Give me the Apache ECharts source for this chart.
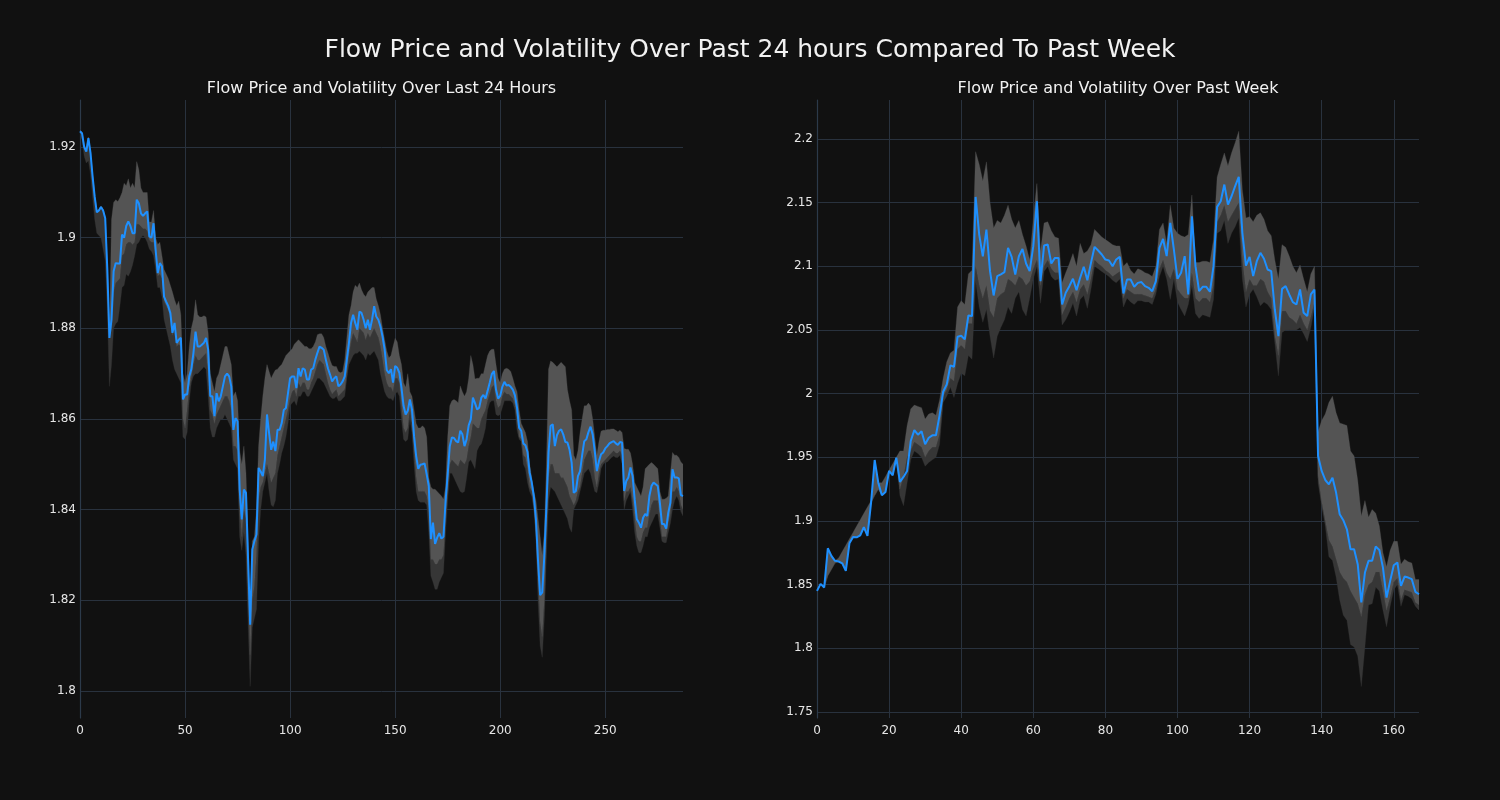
<!DOCTYPE html>
<html>
<head>
<meta charset="utf-8">
<script src="https://cdn.jsdelivr.net/npm/echarts/dist/echarts.min.js"></script>
<style>
html,body{margin:0;padding:0;background:#111111;}
#chart{width:1500px;height:800px;}
</style>
</head>
<body>
<div id="chart"></div>
<script>
// ---------- Last 24 hours (5-minute steps, index 0..287) ----------
const price24 = [
1.9235,1.9230,1.9200,1.9190,1.9220,1.9187,1.9135,1.9090,1.9056,1.9060,
1.9068,1.9060,1.9043,1.8930,1.8779,1.8820,1.8926,1.8944,1.8943,1.8943,
1.9007,1.9000,1.9026,1.9036,1.9026,1.9010,1.9010,1.9084,1.9076,1.9054,
1.9048,1.9054,1.9058,1.9003,1.9000,1.9032,1.8973,1.8922,1.8944,1.8937,
1.8870,1.8859,1.8849,1.8834,1.8790,1.8812,1.8768,1.8775,1.8779,1.8643,
1.8654,1.8654,1.8694,1.8710,1.8746,1.8793,1.8760,1.8760,1.8764,1.8768,
1.8779,1.8753,1.8650,1.8650,1.8606,1.8657,1.8639,1.8650,1.8672,1.8694,
1.8700,1.8694,1.8672,1.8576,1.8602,1.8595,1.8444,1.8378,1.8444,1.8437,
1.8290,1.8146,1.8312,1.8330,1.8345,1.8492,1.8484,1.8474,1.8510,1.8610,
1.8569,1.8532,1.8550,1.8529,1.8576,1.8576,1.8591,1.8620,1.8624,1.8657,
1.8690,1.8694,1.8694,1.8668,1.8712,1.8694,1.8712,1.8709,1.8687,1.8687,
1.8709,1.8712,1.8731,1.8746,1.8760,1.8757,1.8753,1.8731,1.8712,1.8698,
1.8683,1.8690,1.8694,1.8672,1.8676,1.8683,1.8694,1.8731,1.8768,1.8812,
1.8830,1.8812,1.8797,1.8837,1.8834,1.8819,1.8800,1.8819,1.8797,1.8819,
1.8849,1.8826,1.8819,1.8804,1.8782,1.8753,1.8708,1.8701,1.8710,1.8680,
1.8717,1.8713,1.8702,1.8669,1.8629,1.8610,1.8618,1.8643,1.8621,1.8562,
1.8518,1.8490,1.8499,1.8500,1.8502,1.8478,1.8452,1.8335,1.8371,1.8324,
1.8338,1.8348,1.8336,1.8340,1.8419,1.8478,1.8540,1.8559,1.8558,1.8551,
1.8548,1.8574,1.8566,1.8540,1.8555,1.8586,1.8599,1.8647,1.8635,1.8621,
1.8625,1.8647,1.8653,1.8645,1.8662,1.8680,1.8699,1.8706,1.8665,1.8645,
1.8651,1.8671,1.8682,1.8674,1.8675,1.8671,1.8665,1.8652,1.8625,1.8581,
1.8574,1.8546,1.8542,1.8527,1.8482,1.8460,1.8430,1.8379,1.8287,1.8211,
1.8217,1.8298,1.8408,1.8526,1.8585,1.8588,1.8540,1.8564,1.8574,1.8577,
1.8566,1.8549,1.8548,1.8532,1.8504,1.8437,1.8441,1.8474,1.8485,1.8520,
1.8551,1.8555,1.8571,1.8583,1.8566,1.8529,1.8485,1.8507,1.8522,1.8526,
1.8535,1.8540,1.8546,1.8549,1.8551,1.8546,1.8543,1.8549,1.8548,1.8441,
1.8463,1.8471,1.8493,1.8474,1.8423,1.8379,1.8371,1.8360,1.8382,1.8390,
1.8386,1.8430,1.8452,1.8460,1.8456,1.8452,1.8415,1.8368,1.8368,1.8358,
1.8393,1.8415,1.8489,1.8471,1.8471,1.8469,1.8432,1.8430];

const high24 = [
1.9238,1.9232,1.9205,1.9195,1.9222,1.9190,1.9138,1.9093,1.9060,1.9063,
1.9070,1.9062,1.9045,1.8935,1.8785,1.9040,1.9078,1.9084,1.9080,1.9088,
1.9100,1.9120,1.9115,1.9130,1.9110,1.9120,1.9110,1.9168,1.9150,1.9110,
1.9100,1.9100,1.9100,1.9035,1.9035,1.9060,1.9000,1.8985,1.8990,1.8960,
1.8930,1.8920,1.8910,1.8895,1.8880,1.8863,1.8850,1.8860,1.8830,1.8700,
1.8680,1.8700,1.8760,1.8800,1.8820,1.8863,1.8830,1.8825,1.8825,1.8828,
1.8825,1.8790,1.8700,1.8680,1.8660,1.8690,1.8700,1.8720,1.8740,1.8760,
1.8760,1.8740,1.8720,1.8650,1.8660,1.8640,1.8530,1.8500,1.8540,1.8480,
1.8330,1.8160,1.8330,1.8340,1.8400,1.8540,1.8600,1.8650,1.8690,1.8720,
1.8705,1.8690,1.8700,1.8708,1.8710,1.8716,1.8720,1.8730,1.8740,1.8745,
1.8750,1.8755,1.8765,1.8770,1.8775,1.8770,1.8765,1.8760,1.8760,1.8755,
1.8755,1.8760,1.8770,1.8786,1.8788,1.8788,1.8780,1.8760,1.8746,1.8730,
1.8718,1.8716,1.8716,1.8705,1.8702,1.8705,1.8730,1.8780,1.8830,1.8850,
1.8880,1.8895,1.8890,1.8900,1.8885,1.8875,1.8870,1.8880,1.8885,1.8890,
1.8890,1.8865,1.8850,1.8830,1.8800,1.8775,1.8750,1.8735,1.8740,1.8760,
1.8778,1.8770,1.8740,1.8720,1.8680,1.8670,1.8700,1.8660,1.8650,1.8620,
1.8590,1.8580,1.8580,1.8585,1.8580,1.8560,1.8470,1.8450,1.8445,1.8445,
1.8440,1.8435,1.8430,1.8423,1.8450,1.8560,1.8629,1.8640,1.8643,1.8640,
1.8636,1.8673,1.8660,1.8650,1.8660,1.8690,1.8740,1.8720,1.8688,1.8690,
1.8690,1.8700,1.8700,1.8720,1.8740,1.8750,1.8754,1.8754,1.8720,1.8690,
1.8680,1.8700,1.8710,1.8712,1.8710,1.8705,1.8690,1.8673,1.8660,1.8620,
1.8590,1.8580,1.8570,1.8550,1.8500,1.8470,1.8440,1.8420,1.8380,1.8340,
1.8300,1.8350,1.8500,1.8710,1.8728,1.8725,1.8720,1.8715,1.8720,1.8725,
1.8720,1.8715,1.8665,1.8640,1.8620,1.8520,1.8510,1.8530,1.8570,1.8600,
1.8629,1.8629,1.8635,1.8629,1.8600,1.8560,1.8520,1.8550,1.8573,1.8575,
1.8575,1.8577,1.8577,1.8578,1.8578,1.8575,1.8572,1.8575,1.8570,1.8535,
1.8533,1.8533,1.8525,1.8500,1.8460,1.8450,1.8440,1.8430,1.8450,1.8490,
1.8495,1.8500,1.8504,1.8500,1.8495,1.8490,1.8440,1.8423,1.8423,1.8425,
1.8430,1.8480,1.8526,1.8520,1.8520,1.8515,1.8505,1.8500];

const split24 = [
1.9238,1.9232,1.9205,1.9195,1.9222,1.9190,1.9138,1.9093,1.9060,1.9063,
1.9070,1.9062,1.9045,1.8935,1.8785,1.8800,1.8880,1.8900,1.8905,1.8910,
1.8960,1.8965,1.8985,1.8990,1.8990,1.8985,1.8990,1.9030,1.9030,1.9025,
1.9020,1.9020,1.9015,1.8995,1.8990,1.8990,1.8960,1.8915,1.8920,1.8910,
1.8860,1.8850,1.8840,1.8825,1.8785,1.8800,1.8760,1.8765,1.8760,1.8600,
1.8580,1.8620,1.8670,1.8690,1.8720,1.8740,1.8730,1.8730,1.8735,1.8740,
1.8745,1.8700,1.8620,1.8610,1.8590,1.8610,1.8620,1.8630,1.8640,1.8650,
1.8650,1.8640,1.8620,1.8540,1.8540,1.8530,1.8400,1.8340,1.8400,1.8380,
1.8220,1.8080,1.8200,1.8230,1.8300,1.8420,1.8450,1.8460,1.8480,1.8500,
1.8480,1.8460,1.8470,1.8480,1.8520,1.8540,1.8560,1.8580,1.8600,1.8620,
1.8645,1.8660,1.8665,1.8650,1.8680,1.8670,1.8680,1.8680,1.8665,1.8665,
1.8680,1.8690,1.8705,1.8720,1.8730,1.8725,1.8720,1.8700,1.8680,1.8665,
1.8655,1.8660,1.8665,1.8650,1.8655,1.8660,1.8665,1.8700,1.8740,1.8770,
1.8790,1.8780,1.8770,1.8800,1.8795,1.8790,1.8775,1.8790,1.8780,1.8790,
1.8800,1.8790,1.8780,1.8760,1.8730,1.8700,1.8680,1.8670,1.8670,1.8660,
1.8690,1.8690,1.8680,1.8630,1.8580,1.8570,1.8580,1.8620,1.8590,1.8530,
1.8470,1.8440,1.8440,1.8440,1.8440,1.8430,1.8400,1.8290,1.8290,1.8280,
1.8280,1.8290,1.8290,1.8300,1.8380,1.8440,1.8500,1.8510,1.8505,1.8500,
1.8495,1.8510,1.8505,1.8500,1.8510,1.8540,1.8560,1.8590,1.8585,1.8580,
1.8580,1.8600,1.8610,1.8620,1.8640,1.8655,1.8670,1.8675,1.8640,1.8625,
1.8630,1.8650,1.8660,1.8655,1.8655,1.8650,1.8645,1.8630,1.8600,1.8560,
1.8555,1.8520,1.8515,1.8490,1.8450,1.8440,1.8410,1.8350,1.8250,1.8150,
1.8120,1.8200,1.8350,1.8470,1.8500,1.8500,1.8480,1.8480,1.8480,1.8470,
1.8470,1.8460,1.8450,1.8430,1.8420,1.8410,1.8420,1.8440,1.8450,1.8480,
1.8510,1.8520,1.8530,1.8530,1.8510,1.8470,1.8450,1.8480,1.8500,1.8505,
1.8510,1.8515,1.8520,1.8525,1.8530,1.8525,1.8525,1.8530,1.8520,1.8420,
1.8440,1.8440,1.8450,1.8420,1.8380,1.8340,1.8330,1.8330,1.8350,1.8360,
1.8360,1.8390,1.8410,1.8420,1.8420,1.8420,1.8380,1.8340,1.8340,1.8340,
1.8370,1.8390,1.8440,1.8440,1.8450,1.8440,1.8410,1.8400];

const low24 = [
1.9230,1.9215,1.9180,1.9165,1.9170,1.9140,1.9090,1.9040,1.9010,1.9005,
1.9000,1.8975,1.8950,1.8840,1.8672,1.8720,1.8800,1.8810,1.8815,1.8850,
1.8890,1.8895,1.8920,1.8915,1.8925,1.8940,1.8960,1.8985,1.8990,1.9000,
1.9005,1.9000,1.8990,1.8975,1.8970,1.8960,1.8930,1.8890,1.8890,1.8870,
1.8820,1.8800,1.8780,1.8760,1.8730,1.8710,1.8700,1.8690,1.8680,1.8560,
1.8555,1.8570,1.8640,1.8680,1.8695,1.8700,1.8700,1.8705,1.8710,1.8715,
1.8710,1.8650,1.8580,1.8560,1.8560,1.8580,1.8590,1.8600,1.8600,1.8610,
1.8600,1.8590,1.8580,1.8510,1.8500,1.8490,1.8340,1.8310,1.8350,1.8300,
1.8150,1.8010,1.8140,1.8160,1.8180,1.8330,1.8400,1.8440,1.8460,1.8480,
1.8440,1.8410,1.8406,1.8420,1.8480,1.8500,1.8525,1.8540,1.8560,1.8590,
1.8630,1.8635,1.8640,1.8630,1.8650,1.8650,1.8660,1.8660,1.8650,1.8650,
1.8660,1.8670,1.8680,1.8690,1.8690,1.8685,1.8680,1.8670,1.8660,1.8650,
1.8645,1.8645,1.8650,1.8640,1.8640,1.8645,1.8650,1.8690,1.8720,1.8730,
1.8740,1.8745,1.8745,1.8750,1.8745,1.8740,1.8730,1.8745,1.8740,1.8745,
1.8750,1.8740,1.8730,1.8700,1.8680,1.8660,1.8650,1.8645,1.8645,1.8640,
1.8655,1.8660,1.8650,1.8600,1.8555,1.8550,1.8555,1.8600,1.8570,1.8500,
1.8440,1.8420,1.8416,1.8416,1.8416,1.8410,1.8350,1.8254,1.8240,1.8224,
1.8224,1.8240,1.8250,1.8260,1.8350,1.8420,1.8480,1.8480,1.8470,1.8460,
1.8450,1.8440,1.8437,1.8440,1.8470,1.8505,1.8510,1.8500,1.8490,1.8530,
1.8540,1.8545,1.8560,1.8580,1.8620,1.8636,1.8640,1.8640,1.8610,1.8607,
1.8610,1.8625,1.8640,1.8640,1.8640,1.8640,1.8635,1.8620,1.8575,1.8555,
1.8550,1.8500,1.8490,1.8460,1.8440,1.8430,1.8400,1.8340,1.8200,1.8100,
1.8074,1.8160,1.8300,1.8420,1.8450,1.8445,1.8440,1.8430,1.8420,1.8410,
1.8400,1.8390,1.8380,1.8360,1.8350,1.8400,1.8410,1.8420,1.8440,1.8460,
1.8480,1.8485,1.8490,1.8480,1.8460,1.8440,1.8437,1.8460,1.8490,1.8500,
1.8504,1.8505,1.8510,1.8515,1.8518,1.8515,1.8515,1.8520,1.8500,1.8400,
1.8420,1.8430,1.8440,1.8400,1.8350,1.8320,1.8305,1.8305,1.8320,1.8340,
1.8340,1.8360,1.8370,1.8380,1.8390,1.8390,1.8360,1.8330,1.8327,1.8327,
1.8350,1.8370,1.8400,1.8420,1.8430,1.8420,1.8395,1.8386];

// ---------- Past week (hourly steps, index 0..167) ----------
const priceWeek = [
1.8451,1.8506,1.8478,1.8786,1.8726,1.8687,1.8682,1.8668,1.8608,1.8825,
1.8875,1.8872,1.8888,1.8951,1.8883,1.9144,1.9479,1.9301,1.9202,1.9228,
1.9393,1.9359,1.9497,1.9307,1.9346,1.9393,1.9628,1.9714,1.9678,1.9704,
1.9602,1.9654,1.9673,1.9673,1.9830,2.0015,2.0073,2.0222,2.0211,2.0447,
2.0455,2.0426,2.0614,2.0609,2.1545,2.1249,2.1079,2.1289,2.0962,2.0771,
2.0923,2.0936,2.0954,2.1145,2.1074,2.0936,2.1079,2.1137,2.1022,2.0962,
2.1158,2.1511,2.0883,2.1163,2.1171,2.1022,2.1066,2.1066,2.0700,2.0792,
2.0844,2.0902,2.0813,2.0910,2.0996,2.0891,2.1027,2.1153,2.1124,2.1093,
2.1053,2.1045,2.1001,2.1053,2.1074,2.0787,2.0896,2.0896,2.0839,2.0870,
2.0876,2.0844,2.0831,2.0805,2.0883,2.1145,2.1215,2.1080,2.1341,2.1132,
2.0902,2.0949,2.1080,2.0779,2.1393,2.1001,2.0805,2.0839,2.0839,2.0800,
2.1001,2.1467,2.1511,2.1642,2.1485,2.1550,2.1629,2.1702,2.1263,2.1006,
2.1074,2.0923,2.1040,2.1106,2.1059,2.0975,2.0962,2.0661,2.0452,2.0823,
2.0844,2.0779,2.0719,2.0700,2.0818,2.0635,2.0609,2.0779,2.0818,1.9510,
1.9393,1.9322,1.9288,1.9340,1.9223,1.9053,1.9006,1.8935,1.8778,1.8778,
1.8661,1.8360,1.8595,1.8687,1.8687,1.8799,1.8773,1.8634,1.8399,1.8530,
1.8653,1.8674,1.8491,1.8564,1.8556,1.8543,1.8444,1.8425];

const highWeek = [
1.8451,1.8506,1.8478,1.8786,1.8726,1.8687,1.8710,1.8760,1.8810,1.8860,
1.8910,1.8960,1.9010,1.9060,1.9110,1.9160,1.9479,1.9301,1.9300,1.9350,
1.9400,1.9450,1.9500,1.9550,1.9550,1.9750,1.9880,1.9910,1.9900,1.9890,
1.9800,1.9840,1.9850,1.9830,1.9950,2.0120,2.0250,2.0320,2.0340,2.0680,
2.0730,2.0700,2.0940,2.0970,2.1900,2.1800,2.1670,2.1820,2.1500,2.1300,
2.1360,2.1340,2.1400,2.1480,2.1370,2.1300,2.1360,2.1250,2.1160,2.1050,
2.1370,2.1650,2.1120,2.1340,2.1350,2.1280,2.1230,2.1220,2.0870,2.0950,
2.1020,2.1100,2.1000,2.1180,2.1100,2.1120,2.1170,2.1290,2.1260,2.1230,
2.1210,2.1190,2.1170,2.1160,2.1160,2.1000,2.1030,2.0970,2.0940,2.0980,
2.0970,2.0950,2.0940,2.0920,2.1000,2.1290,2.1340,2.1180,2.1480,2.1300,
2.1260,2.1240,2.1230,2.1250,2.1560,2.1030,2.1030,2.1040,2.1040,2.1030,
2.1210,2.1700,2.1800,2.1890,2.1790,2.1890,2.1970,2.2060,2.1600,2.1380,
2.1390,2.1350,2.1400,2.1420,2.1370,2.1280,2.1240,2.1050,2.0900,2.1170,
2.1150,2.1080,2.1000,2.0950,2.1010,2.0900,2.0800,2.0940,2.1000,1.9700,
1.9790,1.9840,1.9930,1.9980,1.9850,1.9770,1.9760,1.9750,1.9550,1.9510,
1.9320,1.9040,1.9160,1.9030,1.9090,1.9060,1.8960,1.8750,1.8640,1.8770,
1.8840,1.8840,1.8660,1.8700,1.8680,1.8670,1.8540,1.8540];

const splitWeek = [
1.8451,1.8506,1.8478,1.8570,1.8620,1.8670,1.8682,1.8668,1.8608,1.8825,
1.8875,1.8872,1.8888,1.8951,1.8883,1.9144,1.9200,1.9250,1.9202,1.9228,
1.9393,1.9359,1.9497,1.9250,1.9350,1.9500,1.9550,1.9620,1.9600,1.9580,
1.9500,1.9550,1.9580,1.9580,1.9680,1.9980,2.0030,2.0120,2.0100,2.0350,
2.0380,2.0350,2.0550,2.0550,2.1000,2.0850,2.0750,2.0850,2.0650,2.0600,
2.0750,2.0780,2.0800,2.0900,2.0880,2.0850,2.0920,2.0900,2.0850,2.0880,
2.0980,2.1050,2.0850,2.1000,2.1050,2.0980,2.0950,2.0950,2.0620,2.0680,
2.0750,2.0800,2.0720,2.0820,2.0860,2.0780,2.0900,2.1050,2.1020,2.1000,
2.0970,2.0950,2.0920,2.0940,2.0960,2.0750,2.0820,2.0800,2.0780,2.0780,
2.0780,2.0770,2.0760,2.0750,2.0820,2.0980,2.1050,2.0950,2.0900,2.0980,
2.0820,2.0780,2.0750,2.0750,2.0950,2.0750,2.0720,2.0750,2.0750,2.0720,
2.0850,2.1350,2.1400,2.1480,2.1350,2.1400,2.1450,2.1500,2.1050,2.0800,
2.0900,2.0850,2.0850,2.0900,2.0880,2.0800,2.0750,2.0450,2.0300,2.0650,
2.0650,2.0600,2.0580,2.0550,2.0620,2.0550,2.0500,2.0600,2.0720,1.9350,
1.9150,1.9000,1.8850,1.8800,1.8700,1.8600,1.8550,1.8520,1.8450,1.8400,
1.8350,1.8250,1.8420,1.8500,1.8520,1.8600,1.8600,1.8450,1.8300,1.8400,
1.8520,1.8550,1.8380,1.8460,1.8450,1.8440,1.8360,1.8340];

const lowWeek = [
1.8451,1.8506,1.8478,1.8570,1.8620,1.8670,1.8682,1.8668,1.8608,1.8825,
1.8875,1.8872,1.8888,1.8951,1.8883,1.9144,1.9200,1.9250,1.9202,1.9228,
1.9393,1.9359,1.9497,1.9200,1.9120,1.9300,1.9480,1.9550,1.9530,1.9500,
1.9430,1.9460,1.9480,1.9500,1.9600,1.9930,1.9980,2.0050,1.9970,2.0080,
2.0160,2.0140,2.0300,2.0270,2.0880,2.0680,2.0560,2.0660,2.0450,2.0280,
2.0450,2.0520,2.0580,2.0680,2.0630,2.0750,2.0800,2.0660,2.0610,2.0750,
2.0900,2.1000,2.0710,2.0960,2.1000,2.0920,2.0890,2.0900,2.0540,2.0580,
2.0640,2.0710,2.0610,2.0740,2.0770,2.0670,2.0820,2.1000,2.0980,2.0960,
2.0940,2.0920,2.0890,2.0870,2.0900,2.0680,2.0750,2.0720,2.0700,2.0730,
2.0730,2.0720,2.0720,2.0700,2.0780,2.0920,2.1000,2.0900,2.0740,2.0900,
2.0720,2.0660,2.0610,2.0700,2.0850,2.0630,2.0590,2.0620,2.0610,2.0600,
2.0740,2.1260,2.1280,2.1360,2.1180,2.1260,2.1310,2.1380,2.0900,2.0680,
2.0780,2.0820,2.0760,2.0690,2.0720,2.0700,2.0660,2.0400,2.0140,2.0480,
2.0500,2.0500,2.0500,2.0500,2.0520,2.0470,2.0410,2.0520,2.0680,1.9300,
1.9120,1.8960,1.8720,1.8690,1.8560,1.8380,1.8260,1.8220,1.8030,1.8010,
1.7940,1.7700,1.8010,1.8340,1.8350,1.8480,1.8450,1.8300,1.8170,1.8330,
1.8460,1.8500,1.8330,1.8420,1.8410,1.8390,1.8330,1.8300];

const xTicks24 = [0, 50, 100, 150, 200, 250];
const xTicksWeek = [0, 20, 40, 60, 80, 100, 120, 140, 160];

const mainTitle = 'Flow Price and Volatility Over Past 24 hours Compared To Past Week';
const leftTitle = 'Flow Price and Volatility Over Last 24 Hours';
const rightTitle = 'Flow Price and Volatility Over Past Week';

// ---------- styling ----------
const FONT = 'DejaVu Sans';
const GRID_COLOR = '#29323e';
const AXIS_COLOR = '#2c3a4a';
const LABEL_COLOR = '#e6e6e6';
const LIGHT = 'rgb(84,84,84)';
const DARK = 'rgb(54,54,54)';
const LINE = '#1e90ff';

function xAxisCfg(gridIndex, max, ticks) {
  return {
    type: 'value', gridIndex, min: 0, max: max,
    interval: ticks[1] - ticks[0],
    axisLine: { show: false },
    axisTick: { show: false },
    axisLabel: { color: LABEL_COLOR, fontSize: 12, fontFamily: FONT, margin: 7, showMaxLabel: false,
      formatter: v => ticks.indexOf(v) >= 0 ? String(v) : '' },
    splitLine: { show: true, showMinLine: false, showMaxLine: false, lineStyle: { color: GRID_COLOR, width: 1 } }
  };
}
function yAxisCfg(gridIndex, min, max, splitNumber) {
  return {
    type: 'value', gridIndex, min, max, splitNumber,
    axisLine: { show: true, lineStyle: { color: AXIS_COLOR, width: 1.2 } },
    axisTick: { show: false },
    axisLabel: { color: LABEL_COLOR, fontSize: 12, fontFamily: FONT, margin: 4,
      showMinLabel: false, showMaxLabel: false,
      formatter: v => String(parseFloat(v.toFixed(4))) },
    splitLine: { show: true, showMinLine: false, showMaxLine: false, lineStyle: { color: GRID_COLOR, width: 1 } }
  };
}

// band drawn as two polygons (dark: low..split, light: split..high) through the axis scales
function bandSeries(idx, low, split, high, price) {
  return [
    {
      type: 'custom', xAxisIndex: idx, yAxisIndex: idx, silent: true, clip: true, z: 2,
      data: [[0, price[0]]],
      renderItem: function (params, api) {
        const pts = arr => arr.map((v, i) => api.coord([i, v]));
        const hiP = pts(high), midP = pts(split), loP = pts(low);
        return {
          type: 'group',
          children: [
            { type: 'polygon', shape: { points: midP.concat(loP.slice().reverse()) }, style: { fill: DARK, stroke: DARK, lineWidth: 0.3 } },
            { type: 'polygon', shape: { points: hiP.concat(midP.slice().reverse()) }, style: { fill: LIGHT, stroke: LIGHT, lineWidth: 0.3 } }
          ]
        };
      }
    },
    { type: 'line', xAxisIndex: idx, yAxisIndex: idx, symbol: 'none', silent: true, z: 5,
      data: price.map((v, i) => [i, v]), lineStyle: { color: LINE, width: 2 } }
  ];
}

const chart = echarts.init(document.getElementById('chart'), null, { renderer: 'canvas' });
chart.setOption({
  animation: false,
  backgroundColor: '#111111',
  graphic: [
    { type: 'text', x: 750, y: 50, style: { text: mainTitle, fill: '#f2f2f2', font: '25px "DejaVu Sans"', textAlign: 'center', textVerticalAlign: 'middle' } },
    { type: 'text', x: 381.5, y: 89, style: { text: leftTitle, fill: '#f2f2f2', font: '16px "DejaVu Sans"', textAlign: 'center', textVerticalAlign: 'middle' } },
    { type: 'text', x: 1118, y: 89, style: { text: rightTitle, fill: '#f2f2f2', font: '16px "DejaVu Sans"', textAlign: 'center', textVerticalAlign: 'middle' } }
  ],
  grid: [
    { left: 80, top: 100, width: 603, height: 618, containLabel: false },
    { left: 817, top: 100, width: 602, height: 618, containLabel: false }
  ],
  xAxis: [ xAxisCfg(0, 287, xTicks24), xAxisCfg(1, 167, xTicksWeek) ],
  yAxis: [ yAxisCfg(0, 1.794, 1.9304, 7), yAxisCfg(1, 1.7453, 2.2306, 10) ],
  series: [].concat(
    bandSeries(0, low24, split24, high24, price24),
    bandSeries(1, lowWeek, splitWeek, highWeek, priceWeek)
  )
});
</script>
</body>
</html>
